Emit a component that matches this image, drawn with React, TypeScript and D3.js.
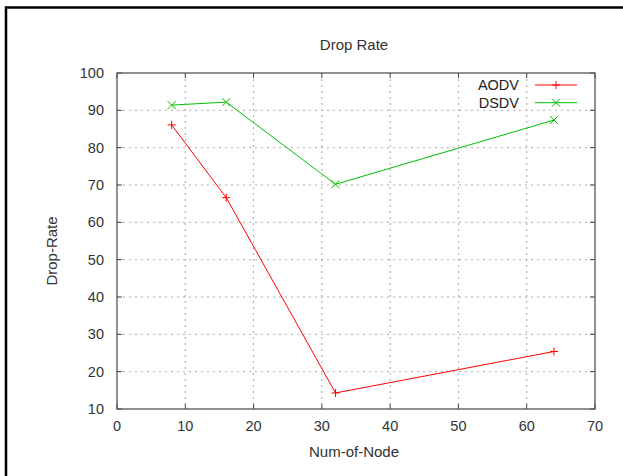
import React, { useEffect, useRef } from "react";
import * as d3 from "d3";

const nodes = [8, 16, 32, 64];
const aodv = [86.1, 66.6, 14.3, 25.4];
const dsdv = [91.4, 92.2, 70.2, 87.4];
const xTicks = [0, 10, 20, 30, 40, 50, 60, 70];
const yTicks = [10, 20, 30, 40, 50, 60, 70, 80, 90, 100];

const W = 623;
const H = 476;
const margin = { top: 73, right: 28, bottom: 67, left: 117 };

export default function App() {
  const ref = useRef<SVGSVGElement>(null);

  useEffect(() => {
    const svg = d3.select(ref.current);
    svg.selectAll("*").remove();
    const font = "'Liberation Sans', Arial, sans-serif";
    const txt = "#333";

    // window frame (top + left)
    svg.append("rect").attr("x", 0).attr("y", 0).attr("width", W).attr("height", H).attr("fill", "#fff");
    svg.append("line").attr("x1", 5).attr("x2", W).attr("y1", 7.5).attr("y2", 7.5).attr("stroke", "#000").attr("stroke-width", 2.5);
    svg.append("line").attr("x1", 6).attr("x2", 6).attr("y1", 6.5).attr("y2", H).attr("stroke", "#000").attr("stroke-width", 2.5);

    const w = W - margin.left - margin.right;
    const h = H - margin.top - margin.bottom;
    const x = d3.scaleLinear().domain([0, 70]).range([0, w]);
    const y = d3.scaleLinear().domain([10, 100]).range([h, 0]);

    const g = svg.append("g").attr("transform", `translate(${margin.left},${margin.top})`);

    // grid
    g.selectAll(".gx").data(xTicks.slice(1, -1)).enter().append("line")
      .attr("x1", d => x(d)).attr("x2", d => x(d)).attr("y1", 0).attr("y2", h)
      .attr("stroke", "#aaa").attr("stroke-dasharray", "2,4");
    g.selectAll(".gy").data(yTicks.slice(1, -1)).enter().append("line")
      .attr("x1", 0).attr("x2", w).attr("y1", d => y(d)).attr("y2", d => y(d))
      .attr("stroke", "#aaa").attr("stroke-dasharray", "2,4");

    // ticks on all four sides, pointing inward
    const tk = 5;
    g.selectAll(".tb").data(xTicks).enter().append("line")
      .attr("x1", d => x(d)).attr("x2", d => x(d)).attr("y1", h).attr("y2", h - tk).attr("stroke", "#444");
    g.selectAll(".tt").data(xTicks).enter().append("line")
      .attr("x1", d => x(d)).attr("x2", d => x(d)).attr("y1", 0).attr("y2", tk).attr("stroke", "#444");
    g.selectAll(".tl").data(yTicks).enter().append("line")
      .attr("x1", 0).attr("x2", tk).attr("y1", d => y(d)).attr("y2", d => y(d)).attr("stroke", "#444");
    g.selectAll(".tr").data(yTicks).enter().append("line")
      .attr("x1", w).attr("x2", w - tk).attr("y1", d => y(d)).attr("y2", d => y(d)).attr("stroke", "#444");

    // frame
    g.append("rect").attr("x", 0).attr("y", 0).attr("width", w).attr("height", h)
      .attr("fill", "none").attr("stroke", "#555").attr("stroke-width", 1.3);

    // tick labels
    g.selectAll(".xl").data(xTicks).enter().append("text")
      .attr("x", d => x(d)).attr("y", h + 22).attr("text-anchor", "middle")
      .attr("font-family", font).attr("font-size", 14.5).attr("fill", txt).text(d => d);
    g.selectAll(".yl").data(yTicks).enter().append("text")
      .attr("x", -13).attr("y", d => y(d) + 5).attr("text-anchor", "end")
      .attr("font-family", font).attr("font-size", 14.5).attr("fill", txt).text(d => d);

    // titles
    svg.append("text").attr("x", 354).attr("y", 50).attr("text-anchor", "middle")
      .attr("font-family", font).attr("font-size", 15).attr("fill", txt).text("Drop Rate");
    svg.append("text").attr("x", 354).attr("y", 457).attr("text-anchor", "middle")
      .attr("font-family", font).attr("font-size", 15).attr("fill", txt).text("Num-of-Node");
    svg.append("text").attr("transform", "translate(57,251) rotate(-90)").attr("text-anchor", "middle")
      .attr("font-family", font).attr("font-size", 15).attr("fill", txt).text("Drop-Rate");

    const line = d3.line<number>().x((_, i) => x(nodes[i])).y(d => y(d));
    const series = [
      { name: "AODV", values: aodv, color: "#ff0000", mark: "plus" },
      { name: "DSDV", values: dsdv, color: "#00c000", mark: "cross" },
    ];
    const m = 4;
    const marker = (sel: any, cx: number, cy: number, kind: string, color: string) => {
      const p = kind === "plus"
        ? `M${cx - m},${cy}H${cx + m}M${cx},${cy - m}V${cy + m}`
        : `M${cx - m},${cy - m}L${cx + m},${cy + m}M${cx - m},${cy + m}L${cx + m},${cy - m}`;
      sel.append("path").attr("d", p).attr("stroke", color).attr("fill", "none");
    };

    series.forEach((s, k) => {
      g.append("path").datum(s.values).attr("d", line).attr("fill", "none")
        .attr("stroke", s.color).attr("stroke-width", 1);
      s.values.forEach((v, i) => marker(g, x(nodes[i]), y(v), s.mark, s.color));

      // legend
      const ly = 12 + k * 17.7;
      g.append("text").attr("x", 402).attr("y", ly + 5).attr("text-anchor", "end")
        .attr("font-family", font).attr("font-size", 14.5).attr("fill", "#222").text(s.name);
      g.append("line").attr("x1", 418).attr("x2", 460).attr("y1", ly).attr("y2", ly)
        .attr("stroke", s.color);
      marker(g, 439, ly, s.mark, s.color);
    });
  }, []);

  return <svg ref={ref} width={W} height={H} style={{ position: "absolute", left: 0, top: 0 }} />;
}
